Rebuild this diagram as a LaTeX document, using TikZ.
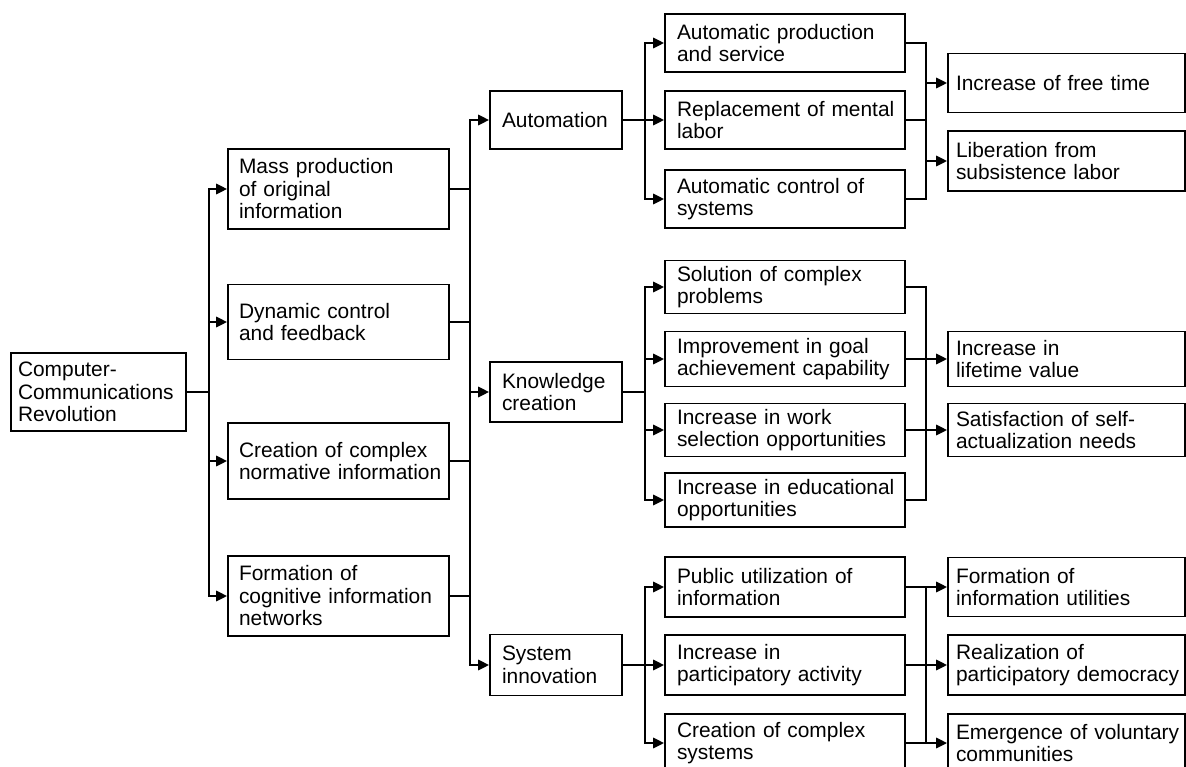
\documentclass[tikz,border=0pt]{standalone}
\usepackage{fontspec}
\setmainfont{Liberation Sans}
\usetikzlibrary{arrows.meta}

\begin{document}
\begin{tikzpicture}[x=0.02cm, y=-0.02cm, line width=1.6pt, >={Triangle[length=2.2mm,width=2mm]},
        box/.style = {draw, line width=0.9pt, inner ysep=0pt, font=\fontsize{11.9}{12.8}\selectfont,
            execute at begin node={\rightskip=0pt plus 1fil minus 10cm\relax\hyphenpenalty=10000\relax}},
        root/.style = {box, text width=3.22cm, inner xsep=0.14cm},
        lone/.style = {box, text width=3.98cm, inner xsep=0.22cm},
        ltwo/.style = {box, text width=2.16cm, inner xsep=0.24cm},
        lthree/.style = {box, text width=4.32cm, inner xsep=0.24cm},
        lfour/.style = {box, text width=4.42cm, inner xsep=0.16cm}]
        \useasboundingbox (0,0) rectangle (1186,767);

        \node[root, minimum height=1.56cm] (R) at (98.5,392) {Computer-\\Communications\\Revolution};

        \node[lone, minimum height=1.6cm] (M) at (338.5,189) {Mass production\\of original\\information};
        \node[lone, minimum height=1.5cm] (D) at (338.5,322) {Dynamic control\\and feedback};
        \node[lone, minimum height=1.52cm] (C) at (338.5,461) {Creation of complex\\normative information};
        \node[lone, minimum height=1.6cm] (F) at (338.5,596) {Formation of\\cognitive information\\networks};

        \node[ltwo, minimum height=1.16cm] (AU) at (556,120) {Automation};
        \node[ltwo, minimum height=1.2cm] (KC) at (556,392) {Knowledge\\creation};
        \node[ltwo, minimum height=1.22cm] (SI) at (556,665) {System\\innovation};

        \node[lthree, minimum height=1.16cm] (AP) at (785,43) {Automatic production\\and service};
        \node[lthree, minimum height=1.16cm] (RM) at (785,120) {Replacement of mental\\labor};
        \node[lthree, minimum height=1.16cm] (AC) at (785,199) {Automatic control of\\systems};
        \node[lthree, minimum height=1.06cm] (SP) at (785,287) {Solution of complex\\problems};
        \node[lthree, minimum height=1.1cm] (IG) at (785,359) {Improvement in goal\\achievement capability};
        \node[lthree, minimum height=1.06cm] (IW) at (785,430) {Increase in work\\selection opportunities};
        \node[lthree, minimum height=1.08cm] (IE) at (785,500) {Increase in educational\\opportunities};
        \node[lthree, minimum height=1.2cm] (PU) at (785,587) {Public utilization of\\information};
        \node[lthree, minimum height=1.2cm] (IP) at (785,665) {Increase in\\participatory activity};
        \node[lthree, minimum height=1.16cm] (CS) at (785,743) {Creation of complex\\systems};

        \node[lfour, minimum height=1.18cm] (FT) at (1066.5,83) {Increase of free time};
        \node[lfour, minimum height=1.2cm] (LB) at (1066.5,161) {Liberation from\\subsistence labor};
        \node[lfour, minimum height=1.1cm] (IL) at (1066.5,359) {Increase in\\lifetime value};
        \node[lfour, minimum height=1.06cm] (SA) at (1066.5,430) {Satisfaction of self-\\actualization needs};
        \node[lfour, minimum height=1.18cm] (FI) at (1066.5,587) {Formation of\\information utilities};
        \node[lfour, minimum height=1.2cm] (RP) at (1066.5,665) {Realization of\\participatory democracy};
        \node[lfour, minimum height=1.16cm] (EV) at (1066.5,743) {Emergence of voluntary\\communities};

        \coordinate (ta) at (209,0);
        \coordinate (tb) at (470,0);
        \coordinate (tc) at (645,0);
        \coordinate (td) at (926,0);

        \draw (R.east) -- (ta |- R.east);
        \draw[->] (ta |- R.east) |- (M.west);
        \draw[->] (ta |- R.east) |- (D.west);
        \draw[->] (ta |- R.east) |- (C.west);
        \draw[->] (ta |- R.east) |- (F.west);

        \draw[->] (M.east) -| (tb |- AU.west) -- (AU.west);
        \draw (tb |- M.east) -- (tb |- F.east);
        \draw (D.east) -- (tb |- D.east);
        \draw (C.east) -- (tb |- C.east);
        \draw[->] (F.east) -| (tb |- SI.west) -- (SI.west);
        \draw[->] (tb |- KC.west) -- (KC.west);

        \draw[->] (AU.east) -- (tc |- AU.east) |- (AP.west);
        \draw[->] (AU.east) -- (RM.west);
        \draw[->] (tc |- AU.east) |- (AC.west);
        \draw (KC.east) -- (tc |- KC.east);
        \draw[->] (tc |- KC.east) |- (SP.west);
        \draw[->] (tc |- KC.east) |- (IG.west);
        \draw[->] (tc |- KC.east) |- (IW.west);
        \draw[->] (tc |- KC.east) |- (IE.west);
        \draw[->] (SI.east) -- (tc |- SI.east) |- (PU.west);
        \draw[->] (SI.east) -- (IP.west);
        \draw[->] (tc |- SI.east) |- (CS.west);

        \draw (AP.east) -| (td |- AC.east) -- (AC.east);
        \draw (RM.east) -- (td |- RM.east);
        \draw[->] (td |- FT.west) -- (FT.west);
        \draw[->] (td |- LB.west) -- (LB.west);
        \draw (SP.east) -| (td |- IE.east) -- (IE.east);
        \draw[->] (IG.east) -- (IL.west);
        \draw[->] (IW.east) -- (SA.west);
        \draw[->] (PU.east) -- (FI.west);
        \draw[->] (IP.east) -- (RP.west);
        \draw[->] (CS.east) -- (EV.west);
        \draw (td |- PU.east) -- (td |- CS.east);
    \end{tikzpicture}
\end{document}
